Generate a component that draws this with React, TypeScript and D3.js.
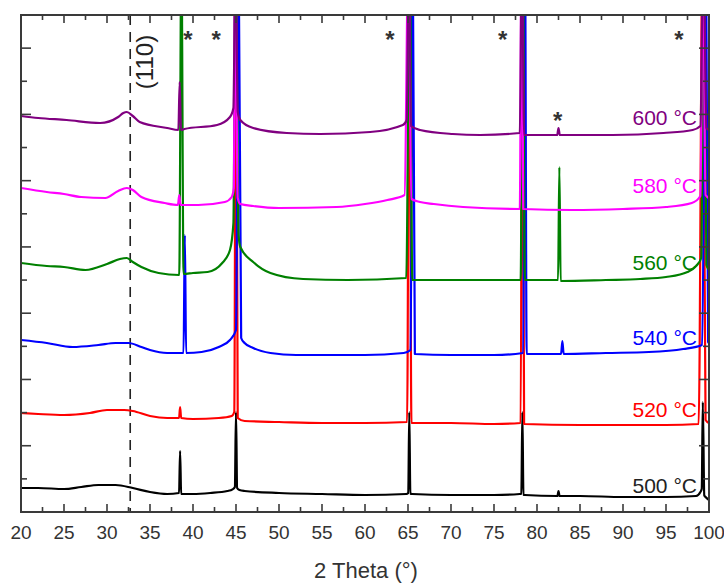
import React from "react";
import * as d3 from "d3";

// ---- data (2θ in degrees, intensity in a.u. incl. stacking offset) ----
const series500: [number, number][] = [
  [20, 72], [22, 72], [25, 69], [27, 75], [29, 81], [31, 81], [33, 72], [35, 60], [37, 54],
  [38.38, 57], [38.5, 183], [38.62, 54], [40, 54], [42, 57], [44, 63], [44.6, 68], [44.87, 75],
  [45.0, 300], [45.13, 72], [45.4, 66], [46, 63], [50, 57], [55, 54], [60, 51], [64.8, 54],
  [65.03, 57], [65.15, 300], [65.27, 55], [65.5, 54], [70, 51], [75, 51], [78.0, 54],
  [78.18, 55], [78.3, 300], [78.42, 52], [78.6, 51], [82.38, 48], [82.5, 63], [82.62, 48],
  [85, 48], [90, 45], [95, 45], [98.5, 48], [99.0, 60], [99.16, 70], [99.28, 330], [99.45, 50],
  [99.6, 45], [100, 36],
];
const series520: [number, number][] = [
  [20, 297], [22, 294], [25, 291], [28, 297], [30, 306], [32, 306], [33, 303], [35, 288],
  [37, 282], [38.38, 282], [38.5, 315], [38.62, 282], [40, 279], [43, 282], [44.5, 288],
  [44.8, 300], [45.0, 1700], [45.2, 282], [46, 273], [50, 270], [55, 267], [60, 267],
  [64.9, 270], [65.15, 1700], [65.4, 267], [70, 267], [75, 264], [78.1, 267], [78.3, 1700],
  [78.5, 264], [85, 261], [90, 261], [95, 261], [98.8, 264], [99.25, 1700], [99.6, 276], [100, 267],
];
const series540: [number, number][] = [
  [20, 516], [23, 507], [26, 495], [29, 501], [31, 507], [32.5, 507], [34, 495], [35, 486],
  [37, 477], [38.9, 477], [39.05, 831], [39.2, 477], [41, 480], [43, 495], [44.3, 516],
  [45.0, 546], [45.3, 1700], [45.6, 522], [46, 507], [47, 492], [49, 477], [52, 471], [60, 471],
  [64.5, 477], [65.3, 486], [65.55, 1700], [65.8, 474], [70, 471], [75, 471], [78.4, 477],
  [78.6, 1700], [78.8, 474], [82.8, 474], [82.95, 513], [83.1, 474], [88, 477], [93, 480],
  [97, 489], [99.2, 501], [99.65, 1700], [99.9, 510], [100, 507],
];
const series560: [number, number][] = [
  [20, 747], [23, 738], [25, 735], [27.5, 726], [30, 744], [31.5, 759], [32.3, 762], [33, 750],
  [34, 735], [36, 717], [38.4, 711], [38.65, 1700], [38.9, 714], [40, 717], [41.7, 720],
  [43.4, 747], [44.3, 786], [44.7, 867], [44.95, 1700], [45.3, 831], [45.5, 795], [47, 750],
  [49, 717], [52.8, 699], [58, 696], [64.8, 702], [65.2, 1700], [65.5, 696], [70, 696],
  [78.1, 696], [78.35, 1700], [78.6, 696], [82.45, 696], [82.6, 1035], [82.75, 693], [88, 696],
  [92, 699], [95, 705], [97.5, 720], [98.5, 738], [99.1, 762], [99.4, 1700], [99.7, 741], [100, 726],
];
const series580: [number, number][] = [
  [20, 972], [23, 960], [25, 954], [27, 945], [29.8, 942], [31.3, 963], [32.3, 972], [33, 966],
  [34, 945], [36.7, 927], [38.25, 921], [38.4, 951], [38.55, 921], [40.6, 921], [43.7, 930],
  [44.5, 945], [44.75, 972], [44.9, 1700], [45.2, 942], [45.5, 924], [47, 918], [50, 912],
  [56.7, 915], [60, 924], [62.6, 936], [64.6, 951], [65.05, 1700], [65.4, 939], [66.4, 930],
  [68, 924], [71.4, 915], [78, 909], [78.2, 1700], [78.4, 909], [84, 906], [90, 909], [95, 915],
  [98, 927], [99.0, 948], [99.3, 1700], [99.6, 951], [100, 942],
];
const series600: [number, number][] = [
  [20, 1188], [22, 1182], [25.3, 1176], [29.2, 1167], [31.3, 1185], [31.9, 1197], [32.3, 1200],
  [33, 1188], [33.8, 1170], [37, 1152], [38.3, 1146], [38.45, 1290], [38.6, 1146], [39, 1149],
  [42.8, 1161], [44.3, 1185], [44.7, 1212], [44.95, 1700], [45.2, 1200], [45.5, 1176],
  [47, 1152], [50.9, 1137], [54.8, 1134], [60.6, 1140], [64.4, 1161], [64.85, 1176],
  [65.1, 1700], [65.35, 1158], [66.4, 1146], [70.2, 1134], [73.4, 1131], [78, 1137],
  [78.25, 1700], [78.5, 1131], [82.35, 1131], [82.5, 1152], [82.65, 1131], [88.8, 1131],
  [94.7, 1137], [98.1, 1146], [99.0, 1158], [99.35, 1700], [99.7, 1152], [100, 1146],
];

const seriesData = [series500, series520, series540, series560, series580, series600];
const seriesNames = ["500 °C", "520 °C", "540 °C", "560 °C", "580 °C", "600 °C"];
const seriesColors = ["#000000", "#ff0000", "#0000ff", "#008000", "#ff00ff", "#800080"];
const labelColors = ["#222222", "#ff0000", "#0000ff", "#008000", "#ff00ff", "#800080"];
const labelY = [57, 285, 501, 726, 957, 1161];

const xTickValues = d3.range(20, 100.001, 2.5);
const xTickLabels = d3.range(20, 100.001, 5);
const yTickValues = d3.range(0, 16).map((i) => i * 99.4);

const asteriskPos: [number, number][] = [
  [39.4, 1392], [42.7, 1392], [62.9, 1392], [76.0, 1392], [96.5, 1392], [82.4, 1149],
];
const refLineTheta = 32.7;
const refLabel = "(110)";
const refLabelPos: [number, number] = [35.35, 1350];

export default function App() {
  const W = 724, H = 584;
  const left = 21, right = 709, top = 15, bottom = 512;
  const x = d3.scaleLinear().domain([20, 100]).range([left, right]);
  const y = d3.scaleLinear().domain([0, 1491]).range([bottom, top]);
  const line = d3
    .line<[number, number]>()
    .x((d) => x(d[0]))
    .y((d) => y(d[1]))
    .curve(d3.curveMonotoneX);
  const axisColor = "#3a3a3a";
  const font = "'Liberation Sans', Arial, Helvetica, sans-serif";

  return (
    <svg
      width={W}
      height={H}
      style={{ position: "absolute", left: 0, top: 0, background: "#fff" }}
      fontFamily={font}
    >
      <defs>
        <clipPath id="plotclip">
          <rect x={left} y={top} width={right - left} height={bottom - top} />
        </clipPath>
      </defs>
      <g clipPath="url(#plotclip)">
        <line
          x1={x(refLineTheta)}
          x2={x(refLineTheta)}
          y1={top}
          y2={bottom}
          stroke="#222"
          strokeWidth={1.6}
          strokeDasharray="10,7"
        />
        {seriesData.map((s, i) => (
          <path
            key={i}
            d={line(s) || ""}
            fill="none"
            stroke={seriesColors[i]}
            strokeWidth={2.2}
            strokeLinejoin="round"
          />
        ))}
      </g>
      {/* frame */}
      <rect
        x={left}
        y={top}
        width={right - left}
        height={bottom - top}
        fill="none"
        stroke={axisColor}
        strokeWidth={2}
      />
      {/* x ticks */}
      {xTickValues.map((t) => {
        const major = Math.abs(t % 5) < 1e-6;
        const len = major ? 8 : 5;
        return (
          <g key={"xt" + t}>
            <line x1={x(t)} x2={x(t)} y1={bottom} y2={bottom - len} stroke={axisColor} strokeWidth={1.6} />
            <line x1={x(t)} x2={x(t)} y1={top} y2={top + len} stroke={axisColor} strokeWidth={1.6} />
          </g>
        );
      })}
      {xTickLabels.map((t) => (
        <text
          key={"xl" + t}
          x={x(t)}
          y={539}
          textAnchor="middle"
          fontSize={19}
          fill="#333"
        >
          {t}
        </text>
      ))}
      {/* y ticks */}
      {yTickValues.map((v, i) => {
        const len = i % 2 === 0 ? 10 : 6;
        return (
          <g key={"yt" + i}>
            <line x1={left} x2={left + len} y1={y(v)} y2={y(v)} stroke={axisColor} strokeWidth={1.6} />
            <line x1={right} x2={right - len} y1={y(v)} y2={y(v)} stroke={axisColor} strokeWidth={1.6} />
          </g>
        );
      })}
      <text x={(left + right) / 2 + 1} y={578} textAnchor="middle" fontSize={22} fill="#333">
        2 Theta (°)
      </text>
      {/* series labels */}
      {seriesNames.map((n, i) => (
        <text
          key={n}
          x={x(98.6)}
          y={y(labelY[i])}
          textAnchor="end"
          fontSize={21}
          fill={labelColors[i]}
        >
          {n}
        </text>
      ))}
      {/* asterisks */}
      {asteriskPos.map((p, i) => (
        <text
          key={"a" + i}
          x={x(p[0])}
          y={y(p[1])}
          textAnchor="middle"
          fontSize={24}
          fontWeight="bold"
          fill="#333"
        >
          *
        </text>
      ))}
      <text
        transform={`translate(${x(refLabelPos[0])},${y(refLabelPos[1])}) rotate(-90)`}
        textAnchor="middle"
        fontSize={24}
        fill="#222"
      >
        {refLabel}
      </text>
    </svg>
  );
}
